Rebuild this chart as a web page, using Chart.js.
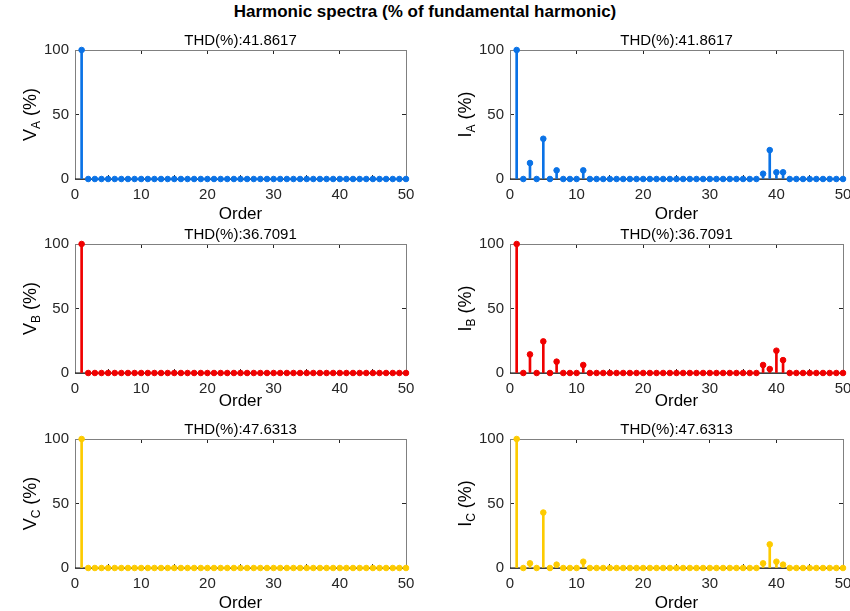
<!DOCTYPE html>
<html>
<head>
<meta charset="utf-8">
<script src="https://cdn.jsdelivr.net/npm/chart.js@4.4.1/dist/chart.umd.min.js"></script>
<style>
body{margin:0;background:#fff;}
#wrap{position:relative;width:850px;height:611px;overflow:hidden;background:#fff;font-family:"Liberation Sans",Arial,sans-serif;}
#title{position:absolute;left:0;top:2px;width:850px;text-align:center;font-weight:bold;font-size:17px;color:#000;}
canvas{position:absolute;}
</style>
</head>
<body>
<div id="wrap">
  <div id="title">Harmonic spectra (% of fundamental harmonic)</div>
  <canvas id="vA" width="425" height="196" style="left:0;top:30px"></canvas>
  <canvas id="iA" width="425" height="196" style="left:435px;top:30px"></canvas>
  <canvas id="vB" width="425" height="196" style="left:0;top:224px"></canvas>
  <canvas id="iB" width="425" height="196" style="left:435px;top:224px"></canvas>
  <canvas id="vC" width="425" height="196" style="left:0;top:419px"></canvas>
  <canvas id="iC" width="425" height="196" style="left:435px;top:419px"></canvas>
</div>
<script>
// harmonic orders 1..50
const orders = [1,2,3,4,5,6,7,8,9,10,11,12,13,14,15,16,17,18,19,20,21,22,23,24,25,
                26,27,28,29,30,31,32,33,34,35,36,37,38,39,40,41,42,43,44,45,46,47,48,49,50];

// voltage spectra (% of fundamental)
const vA = [100,0,0,0,0,0,0,0,0,0,0,0,0,0,0,0,0,0,0,0,0,0,0,0,0,0,0,0,0,0,0,0,0,0,0,0,0,0,0,0,0,0,0,0,0,0,0,0,0,0];
const vB = [100,0,0,0,0,0,0,0,0,0,0,0,0,0,0,0,0,0,0,0,0,0,0,0,0,0,0,0,0,0,0,0,0,0,0,0,0,0,0,0,0,0,0,0,0,0,0,0,0,0];
const vC = [100,0,0,0,0,0,0,0,0,0,0,0,0,0,0,0,0,0,0,0,0,0,0,0,0,0,0,0,0,0,0,0,0,0,0,0,0,0,0,0,0,0,0,0,0,0,0,0,0,0];

// current spectra (% of fundamental)
const iA = [100,0,12.4,0,31.2,0,6.7,0,0,0,6.7,0,0,0,0,0,0,0,0,0,0,0,0,0,0,0,0,0,0,0,0,0,0,0,0,0,0,4.1,22.4,5.2,5.2,0,0,0,0,0,0,0,0,0];
const iB = [100,0,14.4,0,24.5,0,8.8,0,0,0,6.2,0,0,0,0,0,0,0,0,0,0,0,0,0,0,0,0,0,0,0,0,0,0,0,0,0,0,6.2,3.1,17.3,10,0,0,0,0,0,0,0,0,0];
const iC = [100,0,3.6,0,43,0,2.6,0,0,0,4.9,0,0,0,0,0,0,0,0,0,0,0,0,0,0,0,0,0,0,0,0,0,0,0,0,0,0,3.6,18.3,4.9,2.6,0,0,0,0,0,0,0,0,0];

const thdA = 'THD(%):41.8617';
const thdB = 'THD(%):36.7091';
const thdC = 'THD(%):47.6313';

const xTicks = [0,10,20,30,40,50];
const yTicks = [0,50,100];

const FONT = '"Liberation Sans", Arial, sans-serif';
const BLUE = '#0a72e6', RED = '#f00000', GOLD = '#fdcb00';

// rotated y label with subscript
const yLabel = {
  id: 'yLabel',
  afterDraw(chart, args, opts) {
    const {ctx, chartArea: a} = chart;
    const cy = (a.top + a.bottom) / 2;
    const big = '18px ' + FONT, small = '12px ' + FONT;
    ctx.save();
    ctx.translate(opts.x, cy);
    ctx.rotate(-Math.PI / 2);
    ctx.fillStyle = '#000';
    ctx.textBaseline = 'alphabetic';
    ctx.font = big;
    const w1 = ctx.measureText(opts.main).width;
    const w3 = ctx.measureText(' (%)').width;
    ctx.font = small;
    const w2 = ctx.measureText(opts.sub).width;
    let px = -(w1 + w2 + w3) / 2;
    const base = 6;
    ctx.font = big;  ctx.fillText(opts.main, px, base); px += w1;
    ctx.font = small; ctx.fillText(opts.sub, px, base + 4); px += w2;
    ctx.font = big;  ctx.fillText(' (%)', px, base);
    ctx.restore();
  }
};

// MATLAB-like box: inward tick marks on all four sides
const boxGrid = {display: true, drawOnChartArea: false, drawTicks: true, tickLength: -4, color: '#262626'};
const boxBorder = {display: true, color: '#808080', width: 1};

function stemPlot(id, values, color, main, sub, thd, orderPad, rightPad) {
  const pts = orders.map((o, i) => ({x: o, y: values[i]}));
  return new Chart(document.getElementById(id), {
    type: 'scatter',
    data: {
      datasets: [
        {type: 'scatter', data: pts, pointRadius: 2.8, pointBackgroundColor: color,
         pointBorderColor: color, pointBorderWidth: 1, clip: false},
        {type: 'bar', data: pts, backgroundColor: color, barThickness: 2, clip: false},
        {type: 'line', data: [{x: 0, y: 0}, {x: 50, y: 0}], borderColor: '#000',
         borderWidth: 1, pointRadius: 0, clip: false}
      ]
    },
    options: {
      responsive: false,
      animation: false,
      layout: {padding: {left: 0, right: rightPad, top: 0, bottom: 0}},
      plugins: {
        legend: {display: false},
        tooltip: {enabled: false},
        title: {display: true, text: thd, fullSize: false, color: '#000',
                font: {family: FONT, size: 15, weight: 'normal'},
                padding: {top: 1.5, bottom: 0.5}},
        yLabel: {x: 30, main: main, sub: sub}
      },
      scales: {
        x: {
          type: 'linear', position: 'bottom', min: 0, max: 50, offset: false,
          grid: boxGrid, border: boxBorder,
          afterBuildTicks: s => { s.ticks = xTicks.map(v => ({value: v})); },
          // fixed axis height; side padding comes from the layout only
          afterFit: s => { s.height = 47; s.paddingLeft = 0; s.paddingRight = 0; },
          ticks: {padding: 11, color: '#262626', font: {family: FONT, size: 15}, maxRotation: 0},
          title: {display: true, text: 'Order', color: '#000',
                  font: {family: FONT, size: 17}, padding: {top: 0, bottom: orderPad}}
        },
        x2: {
          type: 'linear', position: 'top', min: 0, max: 50, offset: false,
          grid: boxGrid, border: boxBorder,
          afterBuildTicks: s => { s.ticks = xTicks.map(v => ({value: v})); },
          afterFit: s => { s.height = 0; s.paddingLeft = 0; s.paddingRight = 0; },
          ticks: {display: false}
        },
        y: {
          type: 'linear', position: 'left', min: 0, max: 100,
          grid: boxGrid, border: boxBorder,
          afterBuildTicks: s => { s.ticks = yTicks.map(v => ({value: v})); },
          afterFit: s => { s.width = 75; },
          ticks: {padding: 10, color: '#262626', font: {family: FONT, size: 15}}
        },
        y2: {
          type: 'linear', position: 'right', min: 0, max: 100,
          grid: boxGrid, border: boxBorder,
          afterBuildTicks: s => { s.ticks = yTicks.map(v => ({value: v})); },
          afterFit: s => { s.width = 0; },
          ticks: {display: false}
        }
      }
    },
    plugins: [yLabel]
  });
}

stemPlot('vA', vA, BLUE, 'V', 'A', thdA, 1.8, 19);
stemPlot('iA', iA, BLUE, 'I', 'A', thdA, 1.8, 17);
stemPlot('vB', vB, RED,  'V', 'B', thdB, 8.8, 19);
stemPlot('iB', iB, RED,  'I', 'B', thdB, 8.8, 17);
stemPlot('vC', vC, GOLD, 'V', 'C', thdC, 1.8, 19);
stemPlot('iC', iC, GOLD, 'I', 'C', thdC, 1.8, 17);
</script>
</body>
</html>
